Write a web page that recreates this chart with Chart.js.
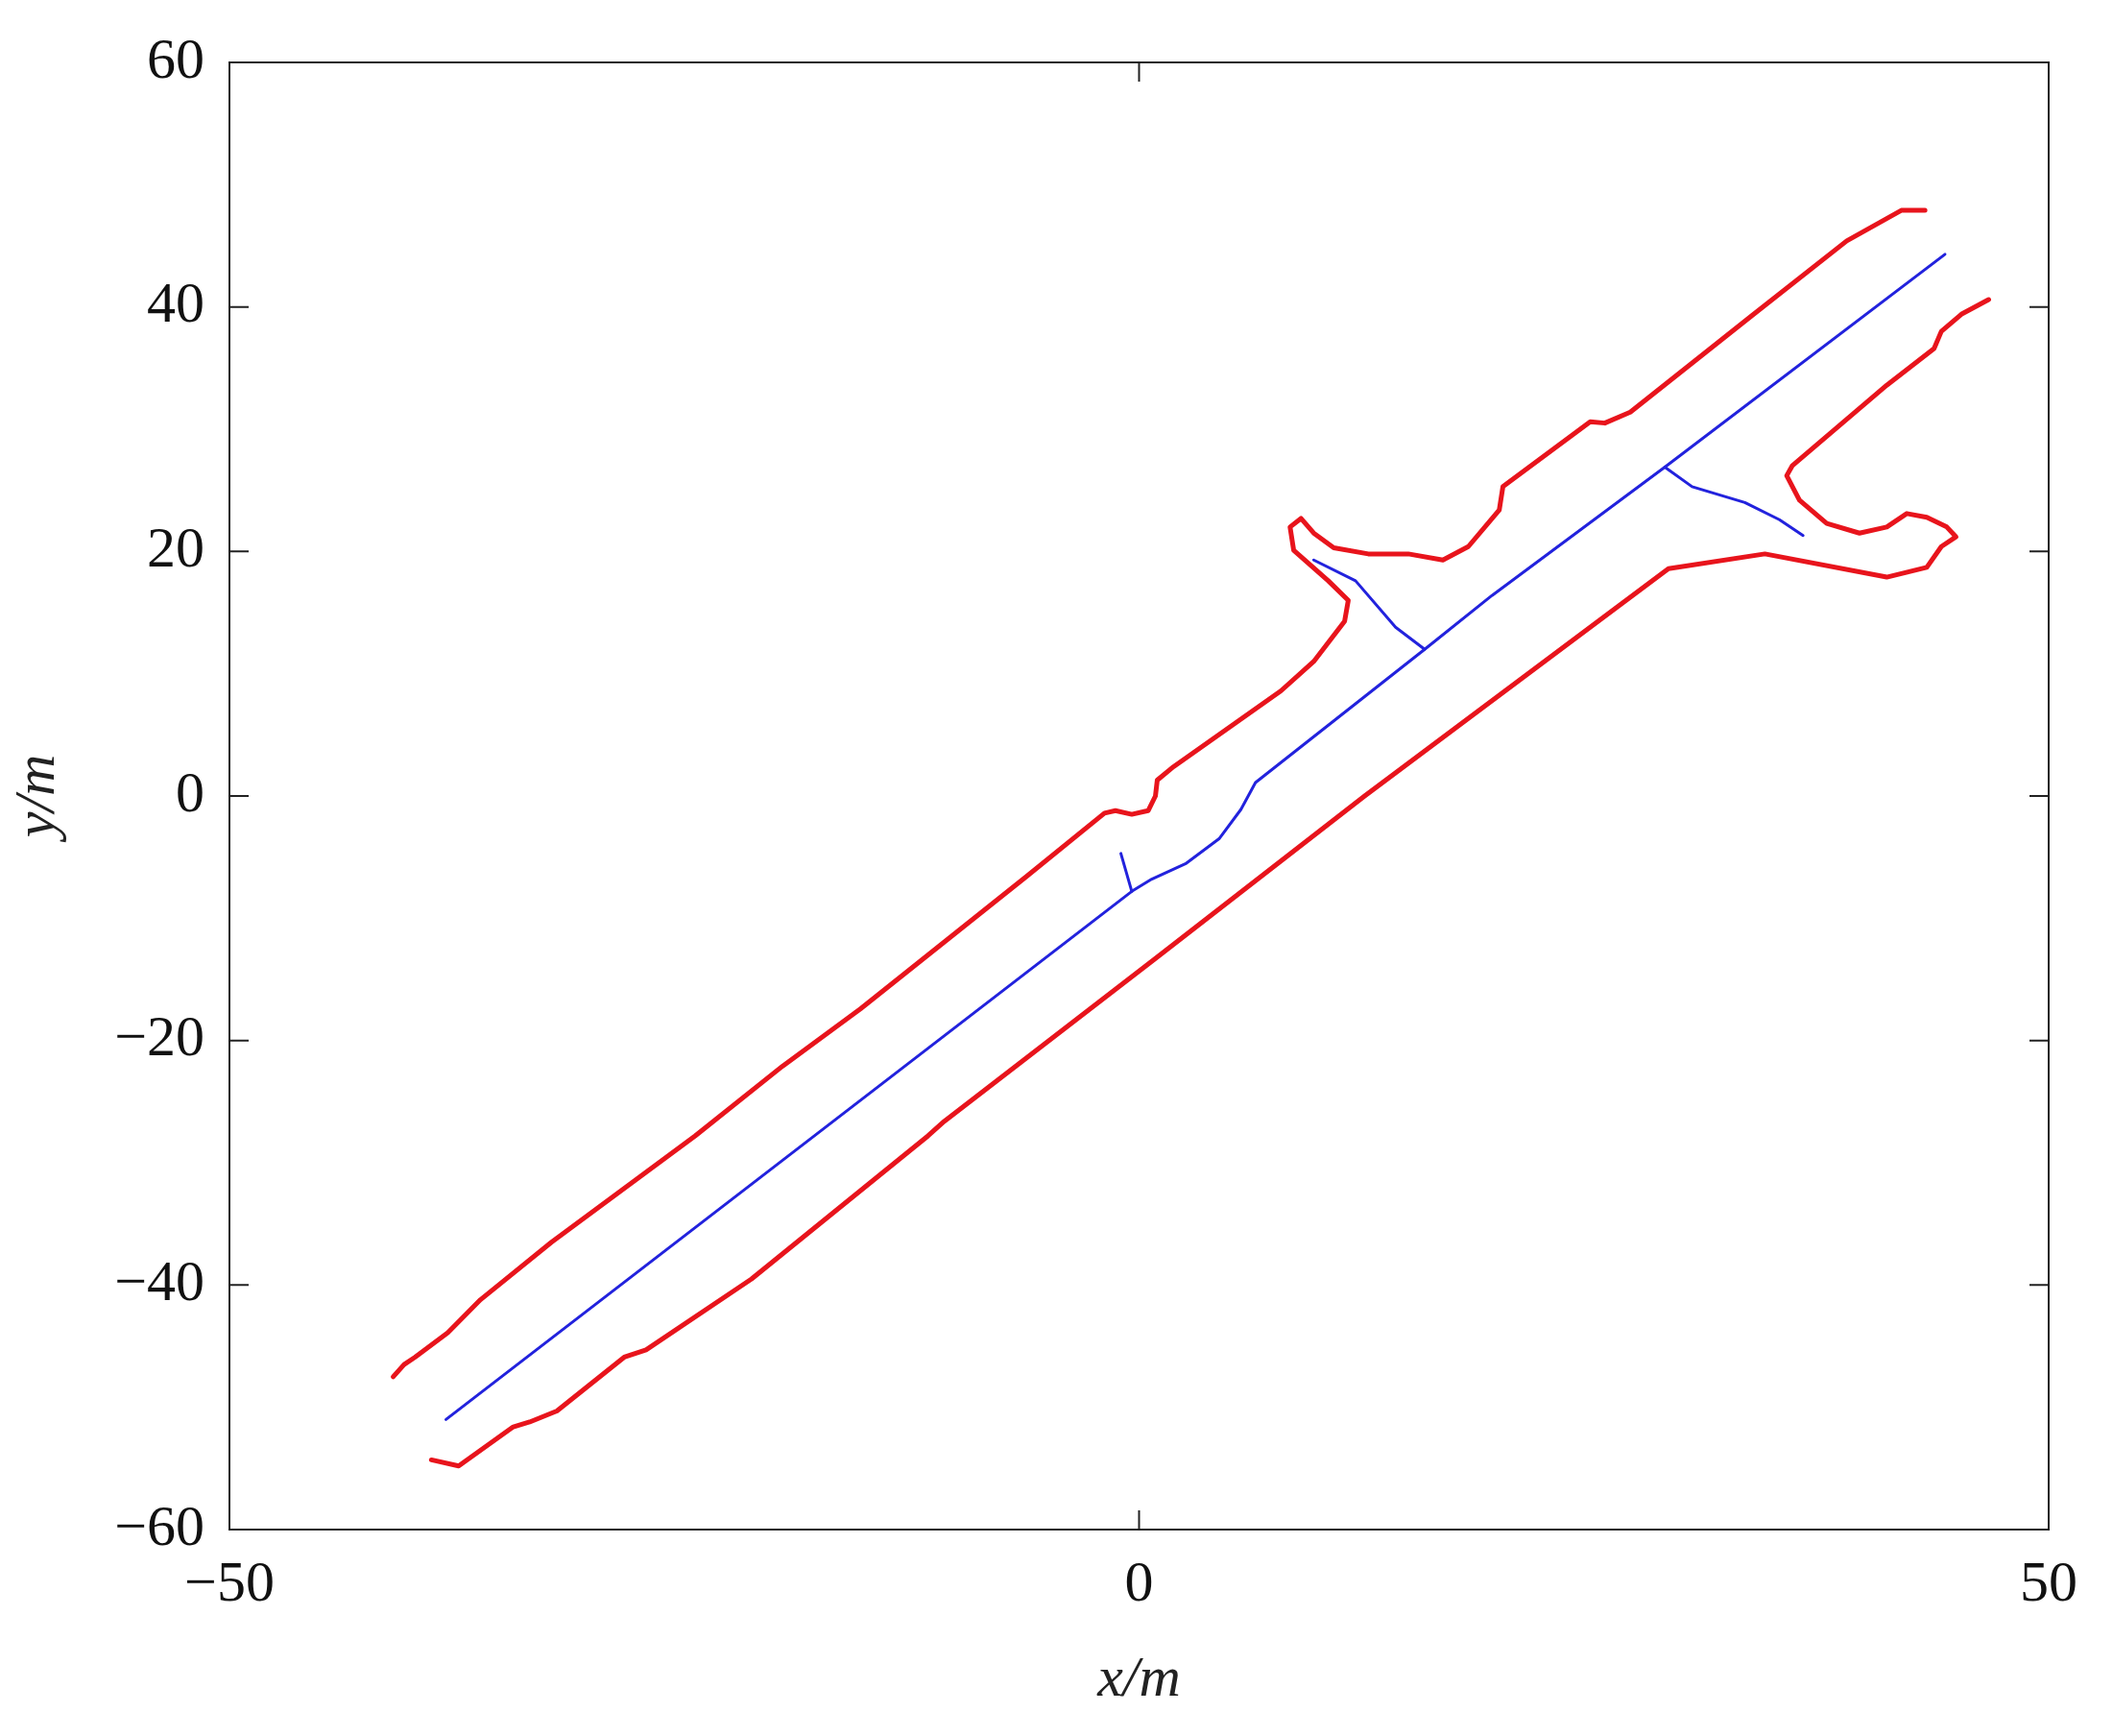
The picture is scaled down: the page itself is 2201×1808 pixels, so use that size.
<!DOCTYPE html>
<html><head><meta charset="utf-8">
<script src="https://cdn.jsdelivr.net/npm/chart.js@4/dist/chart.umd.min.js"></script>
<style>html,body{margin:0;padding:0;background:#fff}#w{width:2201px;height:1808px}</style>
</head><body><div id="w"><canvas id="c"></canvas></div>
<script>
const upperX=[-41.0,-40.4,-39.8,-38.0,-36.2,-32.3,-24.4,-19.6,-15.3,-6.2,-1.9,-1.3,-0.4,0.5,0.9,1.0,1.9,7.8,9.6,11.3,11.5,10.4,8.5,8.3,8.9,9.6,10.7,12.6,14.8,16.7,18.1,19.8,20.0,24.8,25.6,27.0,33.7,38.9,41.9,43.2];
const upperY=[-47.5,-46.5,-45.9,-43.9,-41.2,-36.5,-27.8,-22.1,-17.4,-6.6,-1.4,-1.2,-1.5,-1.2,0,1.3,2.4,8.6,11.0,14.3,16.0,17.6,20.1,22.0,22.7,21.5,20.3,19.8,19.8,19.3,20.4,23.4,25.3,30.6,30.5,31.4,39.3,45.4,47.9,47.9];
const lowerX=[-38.9,-37.4,-34.4,-33.5,-32.0,-28.3,-27.1,-21.3,-11.6,-10.7,0.9,12.4,29.1,34.4,41.1,43.3,44.1,44.9,44.4,43.3,42.2,41.1,39.6,37.8,36.3,35.6,35.9,41.1,43.7,44.1,45.2,46.7];
const lowerY=[-54.3,-54.8,-51.6,-51.2,-50.3,-45.9,-45.3,-39.5,-27.8,-26.6,-13.3,0.0,18.6,19.8,17.9,18.7,20.4,21.2,22.0,22.8,23.1,22.0,21.5,22.3,24.2,26.2,27.0,33.6,36.6,38.0,39.4,40.6];
const centerX=[-38.1,-0.4,0.7,2.6,4.4,5.6,6.4,15.7,19.4,28.9,44.3];
const centerY=[-51.0,-7.8,-6.8,-5.5,-3.5,-1.1,1.1,12.0,16.4,26.9,44.3];
const spurX=[-1.0,-0.4], spurY=[-4.7,-7.8];
const branch1X=[9.6,11.9,14.1,15.7], branch1Y=[19.3,17.6,13.8,12.0];
const branch2X=[28.9,30.4,33.3,35.2,36.5], branch2Y=[26.9,25.3,24.0,22.6,21.3];
const xTicks=[-50,0,50], yTicks=[-60,-40,-20,0,20,40,60];
const pts=(xs,ys)=>xs.map((x,i)=>({x,y:ys[i]}));
const RED='#e8141c', BLUE='#2222dd';
const ds=(xs,ys,c,w)=>({data:pts(xs,ys),borderColor:c,borderWidth:w,showLine:true,pointRadius:0,fill:false,tension:0,borderJoinStyle:'round',borderCapStyle:'round'});
const F="'Liberation Serif', 'DejaVu Serif', serif";
const frame={id:'frame',afterDraw(ch){const {ctx,chartArea:a,scales:{x,y}}=ch;ctx.save();ctx.strokeStyle='#222';ctx.lineWidth=2;
ctx.strokeRect(a.left,a.top,a.right-a.left,a.bottom-a.top);const L=20;ctx.beginPath();
xTicks.forEach(v=>{const p=x.getPixelForValue(v);ctx.moveTo(p,a.bottom);ctx.lineTo(p,a.bottom-L);ctx.moveTo(p,a.top);ctx.lineTo(p,a.top+L);});
yTicks.forEach(v=>{const p=y.getPixelForValue(v);ctx.moveTo(a.left,p);ctx.lineTo(a.left+L,p);ctx.moveTo(a.right,p);ctx.lineTo(a.right-L,p);});
ctx.stroke();ctx.restore();}};
new Chart(document.getElementById('c'),{type:'scatter',
data:{datasets:[ds(upperX,upperY,RED,5),ds(lowerX,lowerY,RED,5),ds(centerX,centerY,BLUE,3),ds(spurX,spurY,BLUE,3),ds(branch1X,branch1Y,BLUE,3),ds(branch2X,branch2Y,BLUE,3)]},
options:{responsive:true,maintainAspectRatio:false,animation:false,events:[],
layout:{padding:{top:65,right:67,left:0,bottom:18}},
plugins:{legend:{display:false},tooltip:{enabled:false}},
scales:{
x:{type:'linear',min:-50,max:50,afterBuildTicks:s=>{s.ticks=xTicks.map(v=>({value:v}));},afterFit:s=>{s.height=197;},
grid:{display:false},border:{display:false},ticks:{color:'#111',font:{family:F,size:60},padding:14,maxRotation:0,callback:v=>v<0?'\u2212'+Math.abs(v):''+v},
title:{display:true,text:'x/m',color:'#222',font:{family:F,size:60,style:'italic'},padding:{top:0}}},
y:{type:'linear',min:-60,max:60,afterBuildTicks:s=>{s.ticks=yTicks.map(v=>({value:v}));},afterFit:s=>{s.width=239;},
grid:{display:false},border:{display:false},ticks:{color:'#111',font:{family:F,size:60},padding:18,callback:v=>v<0?'\u2212'+Math.abs(v):''+v},
title:{display:true,text:'y/m',color:'#222',font:{family:F,size:60,style:'italic'},padding:{bottom:0}}}}},
plugins:[frame]});
</script></body></html>
